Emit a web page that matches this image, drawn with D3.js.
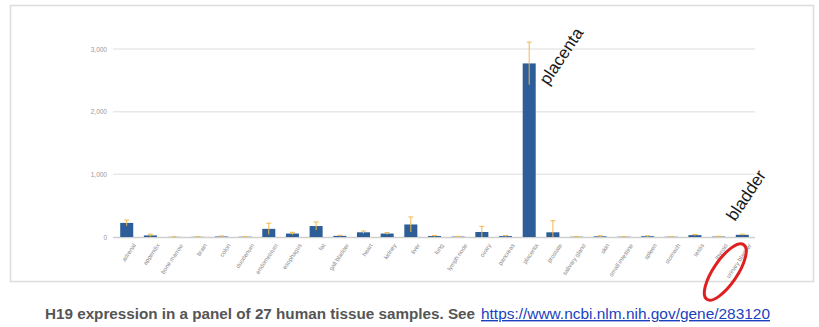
<!DOCTYPE html>
<html>
<head>
<meta charset="utf-8">
<script src="https://cdn.jsdelivr.net/npm/d3@7"></script>
<style>
  html, body { margin: 0; padding: 0; background: #fff; }
  svg { display: block; font-family: "Liberation Sans", Arial, sans-serif; }
</style>
</head>
<body>
<svg id="chart" width="819" height="327"></svg>
<script>
// Tissue panel (HPA RNA-seq normal tissues), RPKM
const tissues = [
  "adrenal", "appendix", "bone marrow", "brain", "colon", "duodenum",
  "endometrium", "esophagus", "fat", "gall bladder", "heart", "kidney",
  "liver", "lung", "lymph node", "ovary", "pancreas", "placenta",
  "prostate", "salivary gland", "skin", "small intestine", "spleen",
  "stomach", "testis", "thyroid", "urinary bladder"
];
const meanRPKM = [
  225, 25, 2, 3, 8, 4,
  130, 55, 175, 18, 75, 55,
  200, 15, 6, 80, 14, 2770,
  75, 4, 10, 4, 12, 4,
  30, 6, 35
];
const sdRPKM = [
  45, 20, 2, 3, 8, 3,
  90, 20, 65, 10, 20, 15,
  120, 8, 4, 90, 10, 340,
  185, 3, 10, 3, 8, 3,
  10, 5, 10
];
const yTicks = [0, 1000, 2000, 3000];
const callouts = [
  { tissue: "placenta", text: "placenta" },
  { tissue: "urinary bladder", text: "bladder" }
];
const caption = "H19 expression in a panel of 27 human tissue samples. See";
const linkText = "https://www.ncbi.nlm.nih.gov/gene/283120";

const svg = d3.select("#chart");

// panel frame
svg.append("rect")
  .attr("x", 10.5).attr("y", 5.5)
  .attr("width", 803).attr("height", 276)
  .attr("fill", "none").attr("stroke", "#dcdcdc").attr("stroke-width", 1.5);

const x = d3.scaleBand().domain(tissues).range([115, 754]).paddingInner(0.45).paddingOuter(0.22);
const y = d3.scaleLinear().domain([0, 3000]).range([237, 49]);

// gridlines
svg.append("g").selectAll("line").data(yTicks.slice(1)).join("line")
  .attr("x1", 113).attr("x2", 755)
  .attr("y1", d => y(d)).attr("y2", d => y(d))
  .attr("stroke", "#e8e8e8").attr("stroke-width", 1.5);

// y axis labels
const yAxis = d3.axisLeft(y).tickValues(yTicks).tickSize(0).tickPadding(4)
  .tickFormat(d3.format(","));
const gy = svg.append("g").attr("transform", "translate(111,0)").call(yAxis);
gy.select(".domain").remove();
gy.selectAll("text").attr("fill", "#9a9a9a").attr("font-size", 6.5);

// x axis
const xAxis = d3.axisBottom(x).tickSize(0).tickPadding(6);
const gx = svg.append("g").attr("transform", `translate(0,${y(0)})`).call(xAxis);
gx.select(".domain").attr("stroke", "#cfcfcf").attr("stroke-width", 1.5)
  .attr("d", "M113,0.5H755");
gx.selectAll("text")
  .attr("fill", "#8a8a8a").attr("font-size", 6)
  .attr("text-anchor", "end")
  .attr("dy", "0.3em")
  .attr("transform", "translate(3,4) rotate(-56)");

// bars
svg.append("g").selectAll("rect").data(tissues).join("rect")
  .attr("x", d => x(d))
  .attr("width", x.bandwidth())
  .attr("y", (d, i) => y(meanRPKM[i]))
  .attr("height", (d, i) => y(0) - y(meanRPKM[i]))
  .attr("fill", "#2d5e98");

// error bars
const eb = svg.append("g").attr("stroke", "#f2b84b").attr("stroke-width", 1);
tissues.forEach((t, i) => {
  const cx = x(t) + x.bandwidth() / 2;
  const top = y(meanRPKM[i] + sdRPKM[i]);
  const bot = y(Math.max(0, meanRPKM[i] - sdRPKM[i]));
  eb.append("line").attr("x1", cx).attr("x2", cx).attr("y1", top).attr("y2", bot);
  eb.append("line").attr("x1", cx - 2.5).attr("x2", cx + 2.5).attr("y1", top).attr("y2", top);
});

// callout labels
const calloutPos = {
  "placenta": [548, 86],
  "bladder": [735, 222]
};
callouts.forEach(c => {
  const p = calloutPos[c.text];
  svg.append("text")
    .attr("transform", `translate(${p[0]},${p[1]}) rotate(-56)`)
    .attr("font-size", 17).attr("fill", "#1a1a1a")
    .text(c.text);
});

// highlight ring around the bladder tick label
const bx = x("urinary bladder") + x.bandwidth() / 2;
svg.append("ellipse")
  .attr("transform", `translate(${bx - 17},${272}) rotate(-56)`)
  .attr("rx", 33).attr("ry", 12)
  .attr("fill", "none").attr("stroke", "#e02020").attr("stroke-width", 3);

// caption with link
svg.append("text").attr("x", 45).attr("y", 319)
  .attr("font-size", 14).attr("fill", "#555").attr("font-weight", "bold")
  .attr("textLength", 430).attr("lengthAdjust", "spacingAndGlyphs")
  .text(caption);
svg.append("text").attr("x", 481).attr("y", 319)
  .attr("font-size", 14).attr("fill", "#1a3fc0").attr("text-decoration", "underline")
  .attr("textLength", 289).attr("lengthAdjust", "spacingAndGlyphs")
  .text(linkText);
</script>
</body>
</html>
